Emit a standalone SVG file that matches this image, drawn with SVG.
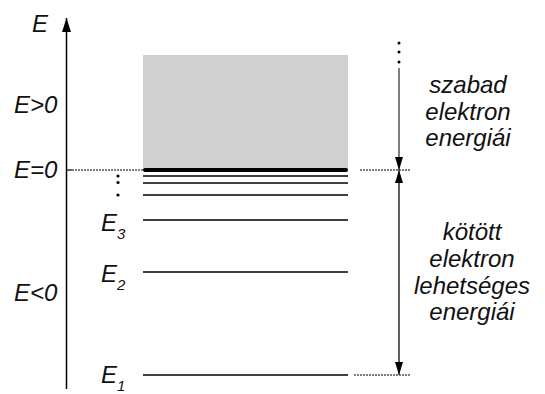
<svg xmlns="http://www.w3.org/2000/svg" width="545" height="394" viewBox="0 0 545 394">
  <defs>
    <marker id="tri" viewBox="0 0 10 10" refX="10" refY="5" markerWidth="13" markerHeight="8" preserveAspectRatio="none" markerUnits="userSpaceOnUse" orient="auto">
      <path d="M0,0 L10,5 L0,10 Z" fill="#000"/>
    </marker>
    <marker id="tri-axis" viewBox="0 0 10 10" refX="10" refY="5" markerWidth="14" markerHeight="9" preserveAspectRatio="none" markerUnits="userSpaceOnUse" orient="auto">
      <path d="M0,0 L10,5 L0,10 Z" fill="#000"/>
    </marker>
    <style>
      text { font-family: "Liberation Sans", Arial, sans-serif; font-style: italic; fill: #111; }
      .lbl { font-size: 24px; }
      .sub { font-size: 15px; }
      .note { font-size: 24px; text-anchor: middle; }
      .level { stroke: #000; stroke-width: 1.5; fill: none; }
      .dot { fill: #000; }
      .dotted { stroke: #000; stroke-width: 1; stroke-dasharray: 2 1; fill: none; }
    </style>
  </defs>

  <!-- continuum of free-electron energies -->
  <g id="continuum">
    <rect x="143" y="55" width="205" height="115" fill="#d0d0d0"/>
  </g>

  <!-- energy axis -->
  <g id="axis">
    <line x1="66.5" y1="389" x2="66.5" y2="18" stroke="#000" stroke-width="1.5" marker-end="url(#tri-axis)"/>
    <text class="lbl" x="32" y="32">E</text>
    <text class="lbl" x="14" y="113">E&gt;0</text>
    <text class="lbl" x="14" y="178">E=0</text>
    <text class="lbl" x="14" y="301">E&lt;0</text>
  </g>

  <!-- energy levels -->
  <g id="levels">
    <line x1="66.5" y1="170" x2="72" y2="170" stroke="#000" stroke-width="1.2"/>
    <line class="dotted" x1="72" y1="170" x2="143" y2="170"/>
    <line x1="145" y1="170" x2="346" y2="170" stroke="#000" stroke-width="4" stroke-linecap="round"/>
    <line class="level" x1="143" y1="176" x2="348" y2="176"/>
    <line class="level" x1="143" y1="183" x2="348" y2="183"/>
    <line class="level" x1="143" y1="195" x2="348" y2="195"/>
    <line class="level" x1="143" y1="220" x2="348" y2="220"/>
    <line class="level" x1="143" y1="272" x2="348" y2="272"/>
    <line class="level" x1="143" y1="375" x2="348" y2="375"/>
    <circle class="dot" cx="118" cy="176" r="1.6"/>
    <circle class="dot" cx="118" cy="182.5" r="1.6"/>
    <circle class="dot" cx="118" cy="195" r="1.6"/>
    <text class="lbl" x="101" y="231">E<tspan class="sub" dy="8">3</tspan></text>
    <text class="lbl" x="101" y="282">E<tspan class="sub" dy="8">2</tspan></text>
    <text class="lbl" x="101" y="383">E<tspan class="sub" dy="8">1</tspan></text>
  </g>

  <!-- range brackets on the right -->
  <g id="connectors">
    <circle class="dot" cx="399" cy="43" r="1.5"/>
    <circle class="dot" cx="399" cy="52" r="1.5"/>
    <circle class="dot" cx="399" cy="62" r="1.5"/>
    <line x1="399" y1="68" x2="399" y2="170" stroke="#555" stroke-width="1.5" marker-end="url(#tri)"/>
    <line x1="399" y1="362" x2="399" y2="170" stroke="#555" stroke-width="1.5" marker-end="url(#tri)"/>
    <line x1="399" y1="183" x2="399" y2="375" stroke="#555" stroke-width="1.5" marker-end="url(#tri)"/>
    <line class="dotted" x1="360" y1="170" x2="411" y2="170"/>
    <line class="dotted" x1="354" y1="375" x2="411" y2="375" stroke="#777"/>
  </g>

  <g id="free-label">
    <text class="note" x="468" y="93">szabad</text>
    <text class="note" x="468" y="120">elektron</text>
    <text class="note" x="468" y="146">energiái</text>
  </g>

  <g id="bound-label">
    <text class="note" x="472" y="240">kötött</text>
    <text class="note" x="472" y="267">elektron</text>
    <text class="note" x="472" y="294">lehetséges</text>
    <text class="note" x="472" y="320">energiái</text>
  </g>
</svg>
